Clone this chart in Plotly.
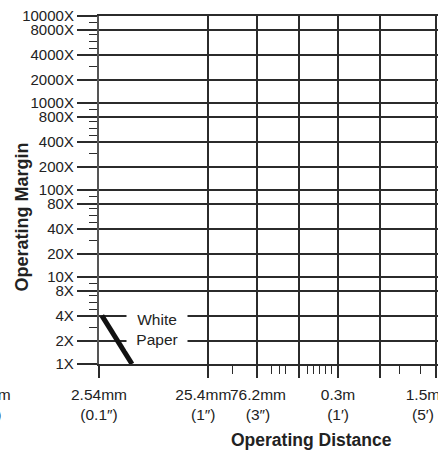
import math
import plotly.graph_objects as go

# ---------------- data ----------------
# Y axis: operating margin (excess gain). Gridline positions as drawn in the
# chart (the drawn 2X/4X/8X lines sit at ~1.85/3.6/6.9 of each decade).
margin_grid = [1, 1.85, 3.6, 6.9, 10, 18.5, 36, 69, 100, 185, 360, 690,
               1000, 1850, 3600, 6900, 10000]
margin_labels = ["1X", "2X", "4X", "8X", "10X", "20X", "40X", "80X",
                 "100X", "200X", "400X", "800X", "1000X", "2000X",
                 "4000X", "8000X", "10000X"]
margin_minor = [2.65, 4.25, 5.1, 6.1, 8.5,
                26.5, 42.5, 51, 61, 85,
                265, 425, 510, 610, 850,
                2650, 4250, 5100, 6100, 8500]
margin_range = [1, 10000]

# X axis: operating distance in mm (positions as drawn in the chart)
distance_grid_mm = [2.54, 25.4, 72, 174, 396, 960, 3140]
distance_minor_mm = [43, 98, 114, 130, 206, 234, 265, 301, 342, 1436, 2238]
distance_label_mm = [0.2, 2.54, 23, 73, 396, 2380]
distance_labels = ["0.254mm<br>(0.01″)", "2.54mm<br>(0.1″)", "25.4mm<br>(1″)",
                   "76.2mm<br>(3″)", "0.3m<br>(1′)", "1.5m<br>(5′)"]
distance_range_mm = [2.54, 3270]

# White paper excess-gain curve
white_paper_mm = [2.7, 5.1]
white_paper_margin = [3.6, 1]
white_paper_label = "White<br>Paper"
white_paper_label_pos = [4.5, 2.5]   # (mm, margin) of label box left/middle

# ---------------- style ----------------
FONT = "Liberation Sans, Arial, sans-serif"
INK = "#222222"
GRID = "#2b2b2b"

xr = [math.log10(v) for v in distance_range_mm]
yr = [math.log10(v) for v in margin_range]

fig = go.Figure()

fig.add_trace(go.Scatter(
    x=white_paper_mm, y=white_paper_margin, mode="lines",
    line=dict(color="#111111", width=5), showlegend=False, hoverinfo="skip"))

# invisible trace to carry the label axis
fig.add_trace(go.Scatter(
    x=distance_label_mm[1:], y=[margin_range[0]] * (len(distance_label_mm) - 1),
    xaxis="x2", mode="markers", marker=dict(opacity=0),
    showlegend=False, hoverinfo="skip"))

fig.update_layout(
    width=438, height=452,
    margin=dict(l=99, r=0, t=16, b=88, autoexpand=False),
    paper_bgcolor="white", plot_bgcolor="white",
    font=dict(family=FONT, color=INK, size=16),
    hovermode=False,
    xaxis=dict(
        type="log", range=xr, autorange=False, automargin=False,
        tickvals=distance_grid_mm, showticklabels=False,
        ticks="outside", ticklen=12, tickwidth=1.5, tickcolor=GRID,
        showgrid=True, gridcolor=GRID, gridwidth=1.5,
        showline=True, linecolor=GRID, linewidth=1.5, mirror=True,
        zeroline=False,
        minor=dict(tickvals=distance_minor_mm, ticks="outside", ticklen=8,
                   tickwidth=1.3, tickcolor=GRID, showgrid=False),
    ),
    xaxis2=dict(
        type="log", range=xr, autorange=False, automargin=False,
        overlaying="x", anchor="y",
        side="bottom", tickvals=distance_label_mm[1:],
        ticktext=distance_labels[1:], tickangle=0,
        tickfont=dict(family=FONT, color=INK, size=15.5),
        ticks="", showgrid=False, showline=False, zeroline=False,
        ticklabeloverflow="allow", ticklabelstandoff=19,
    ),
    yaxis=dict(
        type="log", range=yr, autorange=False, automargin=False,
        tickvals=margin_grid, ticktext=margin_labels,
        tickfont=dict(family=FONT, color=INK, size=15),
        ticklabeloverflow="allow",
        ticks="outside", ticklen=20, tickwidth=1.5, tickcolor=GRID,
        showgrid=True, gridcolor=GRID, gridwidth=1.5,
        showline=True, linecolor="#555555", linewidth=2.2,
        zeroline=False,
        minor=dict(tickvals=margin_minor, ticks="outside", ticklen=8,
                   tickwidth=1.3, tickcolor=GRID, showgrid=False),
    ),
    annotations=[
        dict(text=white_paper_label, xref="x", yref="y",
             x=math.log10(white_paper_label_pos[0]),
             y=math.log10(white_paper_label_pos[1]),
             xanchor="left", yanchor="middle", showarrow=False,
             bgcolor="white", width=56, align="center", borderpad=2,
             font=dict(family=FONT, color=INK, size=15.5)),
        dict(text=distance_labels[0], xref="paper", yref="paper",
             x=(math.log10(distance_label_mm[0]) - xr[0]) / (xr[1] - xr[0]),
             y=-0.0565, xanchor="center", yanchor="top", showarrow=False,
             font=dict(family=FONT, color=INK, size=15.5)),
        dict(text="<b>Operating Margin</b>", xref="paper", yref="paper",
             x=-0.227, y=0.421, textangle=-90, showarrow=False,
             xanchor="center", yanchor="middle",
             font=dict(family=FONT, color=INK, size=18)),
        dict(text="<b>Operating Distance</b>", xref="paper", yref="paper",
             x=0.627, y=-0.217, showarrow=False,
             xanchor="center", yanchor="middle",
             font=dict(family=FONT, color=INK, size=17.5)),
    ],
)

# let the chart fill the window exactly (no default page margin)
fig.write_html("out.html", config={"displayModeBar": False},
               post_script="document.body.style.margin='0';")
